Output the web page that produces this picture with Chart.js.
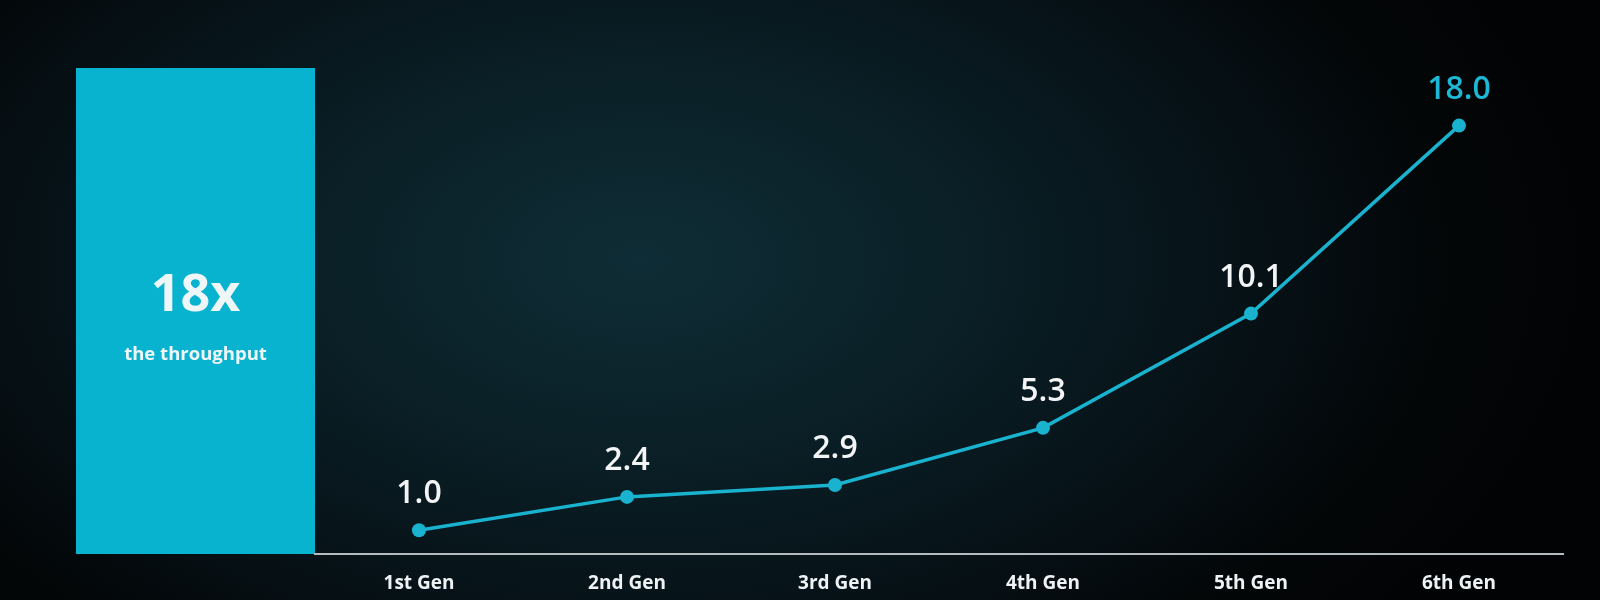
<!DOCTYPE html>
<html>
<head>
<meta charset="utf-8">
<script src="https://cdn.jsdelivr.net/npm/chart.js@4.4.1/dist/chart.umd.min.js"></script>
<style>
  html, body { margin: 0; padding: 0; }
  body {
    width: 1600px; height: 600px; overflow: hidden;
    background: radial-gradient(ellipse 950px 560px at 640px 260px, #0f2d36 0%, #0a1f26 35%, #061116 65%, #030607 85%, #020304 100%);
  }
  #wrap { width: 1600px; height: 600px; position: relative; }
</style>
</head>
<body>
<div id="wrap"><canvas id="c" width="1600" height="600"></canvas></div>
<script>
const categories = ["1st Gen", "2nd Gen", "3rd Gen", "4th Gen", "5th Gen", "6th Gen"];
const throughput = [1.0, 2.4, 2.9, 5.3, 10.1, 18.0];
const valueLabels = ["1.0", "2.4", "2.9", "5.3", "10.1", "18.0"];
const panelHeadline = "18x";
const panelSubline = "the throughput";

const CYAN = "#1ab3cf";
const FONT = "'Open Sans', 'DejaVu Sans', sans-serif";

const panelPlugin = {
  id: "panel",
  beforeDraw(chart) {
    const { ctx, chartArea } = chart;
    const x0 = 76, y0 = 68;
    const x1 = chartArea.left, y1 = chartArea.bottom;
    ctx.save();
    ctx.fillStyle = "#07b3cf";
    ctx.fillRect(x0, y0, x1 - x0, y1 - y0);
    const cx = (x0 + x1) / 2;
    ctx.fillStyle = "#eef6f8";
    ctx.textAlign = "center";
    ctx.textBaseline = "middle";
    ctx.font = "700 52px " + FONT;
    ctx.fillText(panelHeadline, cx, 296);
    ctx.font = "700 18.5px " + FONT;
    ctx.fillText(panelSubline, cx, 355);
    ctx.restore();
  }
};

const labelPlugin = {
  id: "valueLabels",
  afterDatasetsDraw(chart) {
    const { ctx } = chart;
    const meta = chart.getDatasetMeta(0);
    ctx.save();
    ctx.textAlign = "center";
    ctx.textBaseline = "middle";
    ctx.font = "600 32px " + FONT;
    meta.data.forEach((pt, i) => {
      ctx.fillStyle = (i === meta.data.length - 1) ? "#1cb8d6" : "#f2f4f5";
      ctx.fillText(valueLabels[i], pt.x, pt.y - 36);
    });
    ctx.restore();
  }
};

new Chart(document.getElementById("c"), {
  type: "line",
  data: {
    labels: categories,
    datasets: [{
      data: throughput,
      borderColor: CYAN,
      backgroundColor: CYAN,
      borderWidth: 3.5,
      pointRadius: 7,
      pointBackgroundColor: CYAN,
      pointBorderWidth: 0,
      tension: 0,
      fill: false
    }]
  },
  options: {
    responsive: false,
    animation: false,
    devicePixelRatio: 1,
    layout: { padding: { left: 315, right: 37, top: 78, bottom: 0 } },
    plugins: { legend: { display: false }, tooltip: { enabled: false } },
    scales: {
      x: {
        type: "category",
        offset: true,
        grid: { display: false, drawTicks: false },
        border: { display: true, color: "#b4bcc0", width: 2 },
        ticks: {
          color: "#eef2f4",
          padding: 18,
          maxRotation: 0,
          font: { family: FONT, size: 19, weight: "700" }
        },
        afterFit(scale) { scale.height = 46; }
      },
      y: {
        display: false,
        min: 0,
        max: 20
      }
    }
  },
  plugins: [panelPlugin, labelPlugin]
});
</script>
</body>
</html>
